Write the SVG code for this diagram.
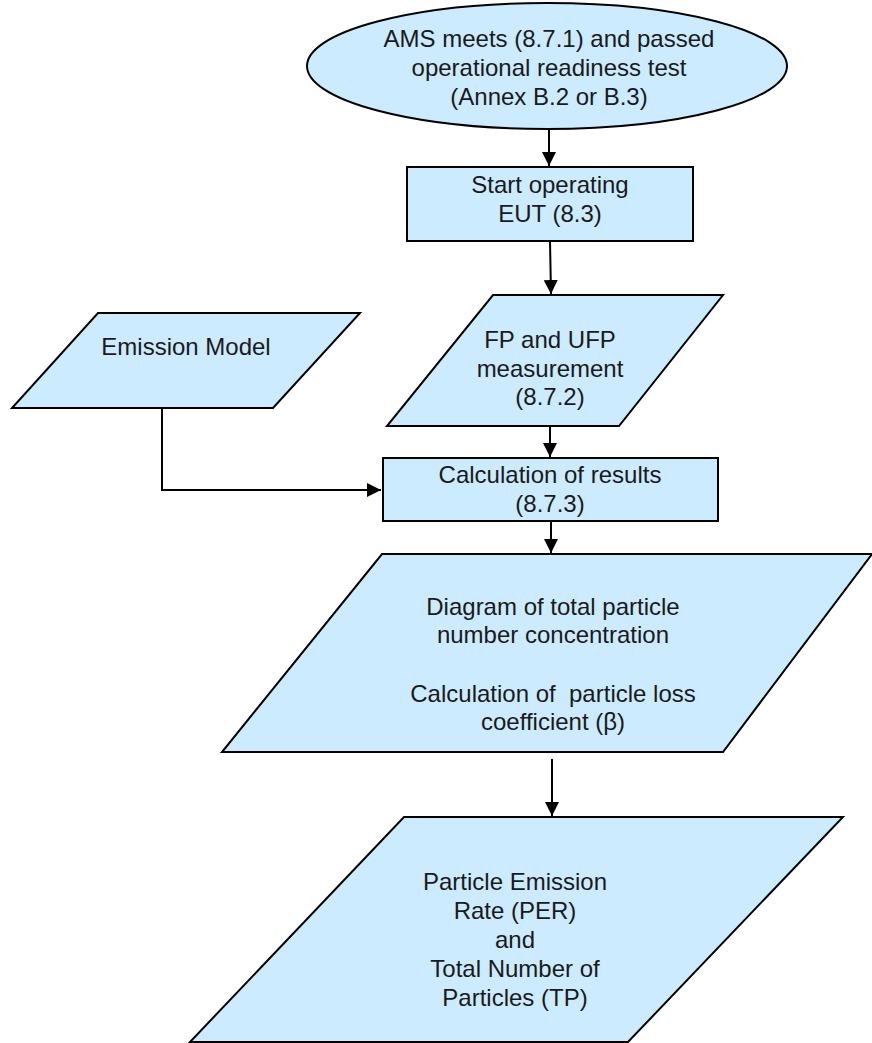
<svg xmlns="http://www.w3.org/2000/svg" width="872" height="1043" viewBox="0 0 872 1043">
<style>
.shape{fill:#CCEBFF;stroke:#000;stroke-width:2;stroke-linejoin:miter}
.t{font-family:"Liberation Sans",Arial,sans-serif;font-size:24px;fill:#1a1a1a;text-anchor:middle}
.c{fill:none;stroke:#000;stroke-width:2}
</style>
<defs>
<marker id="ah" markerUnits="userSpaceOnUse" markerWidth="16" markerHeight="16" refX="14" refY="7" orient="auto">
<path d="M0,0 L14,7 L0,14 z" fill="#000"/>
</marker>
</defs>
<rect width="872" height="1043" fill="#fff"/>
<g id="start">
<ellipse class="shape" cx="547" cy="66" rx="240" ry="63"/>
<text class="t" x="549" y="47">AMS meets (8.7.1) and passed</text>
<text class="t" x="549" y="76">operational readiness test</text>
<text class="t" x="549" y="105">(Annex B.2 or B.3)</text>
</g>
<g id="operate">
<rect class="shape" x="407" y="167" width="286" height="74"/>
<text class="t" x="550" y="193">Start operating</text>
<text class="t" x="550" y="222">EUT (8.3)</text>
</g>
<g id="emission">
<polygon class="shape" points="98,313 360,313 273,408 12,408"/>
<text class="t" x="186" y="355">Emission Model</text>
</g>
<g id="measure">
<polygon class="shape" points="493,295 723,295 619,426 387,426"/>
<text class="t" x="550" y="348">FP and UFP</text>
<text class="t" x="550" y="377">measurement</text>
<text class="t" x="550" y="405">(8.7.2)</text>
</g>
<g id="calc">
<rect class="shape" x="383" y="458" width="335" height="63"/>
<text class="t" x="550" y="483">Calculation of results</text>
<text class="t" x="550" y="512">(8.7.3)</text>
</g>
<g id="diagram">
<polygon class="shape" points="382,554 872,554 723,752 222,752"/>
<text class="t" x="553" y="615">Diagram of total particle</text>
<text class="t" x="553" y="643">number concentration</text>
<text class="t" x="553" y="702" xml:space="preserve">Calculation of  particle loss</text>
<text class="t" x="553" y="730">coefficient (β)</text>
</g>
<g id="per">
<polygon class="shape" points="404,817 843,817 628,1042 190,1042"/>
<text class="t" x="515" y="890">Particle Emission</text>
<text class="t" x="515" y="919">Rate (PER)</text>
<text class="t" x="515" y="948">and</text>
<text class="t" x="515" y="977">Total Number of</text>
<text class="t" x="515" y="1006">Particles (TP)</text>
</g>
<g id="connectors">
<line class="c" x1="549" y1="130" x2="549" y2="166" marker-end="url(#ah)"/>
<line class="c" x1="550" y1="241" x2="551" y2="294" marker-end="url(#ah)"/>
<line class="c" x1="550" y1="426" x2="550" y2="457" marker-end="url(#ah)"/>
<polyline class="c" points="162,407 162,490 381,490" marker-end="url(#ah)"/>
<line class="c" x1="551" y1="521" x2="551" y2="553" marker-end="url(#ah)"/>
<line class="c" x1="552" y1="759" x2="552" y2="816" marker-end="url(#ah)"/>
</g>
</svg>
